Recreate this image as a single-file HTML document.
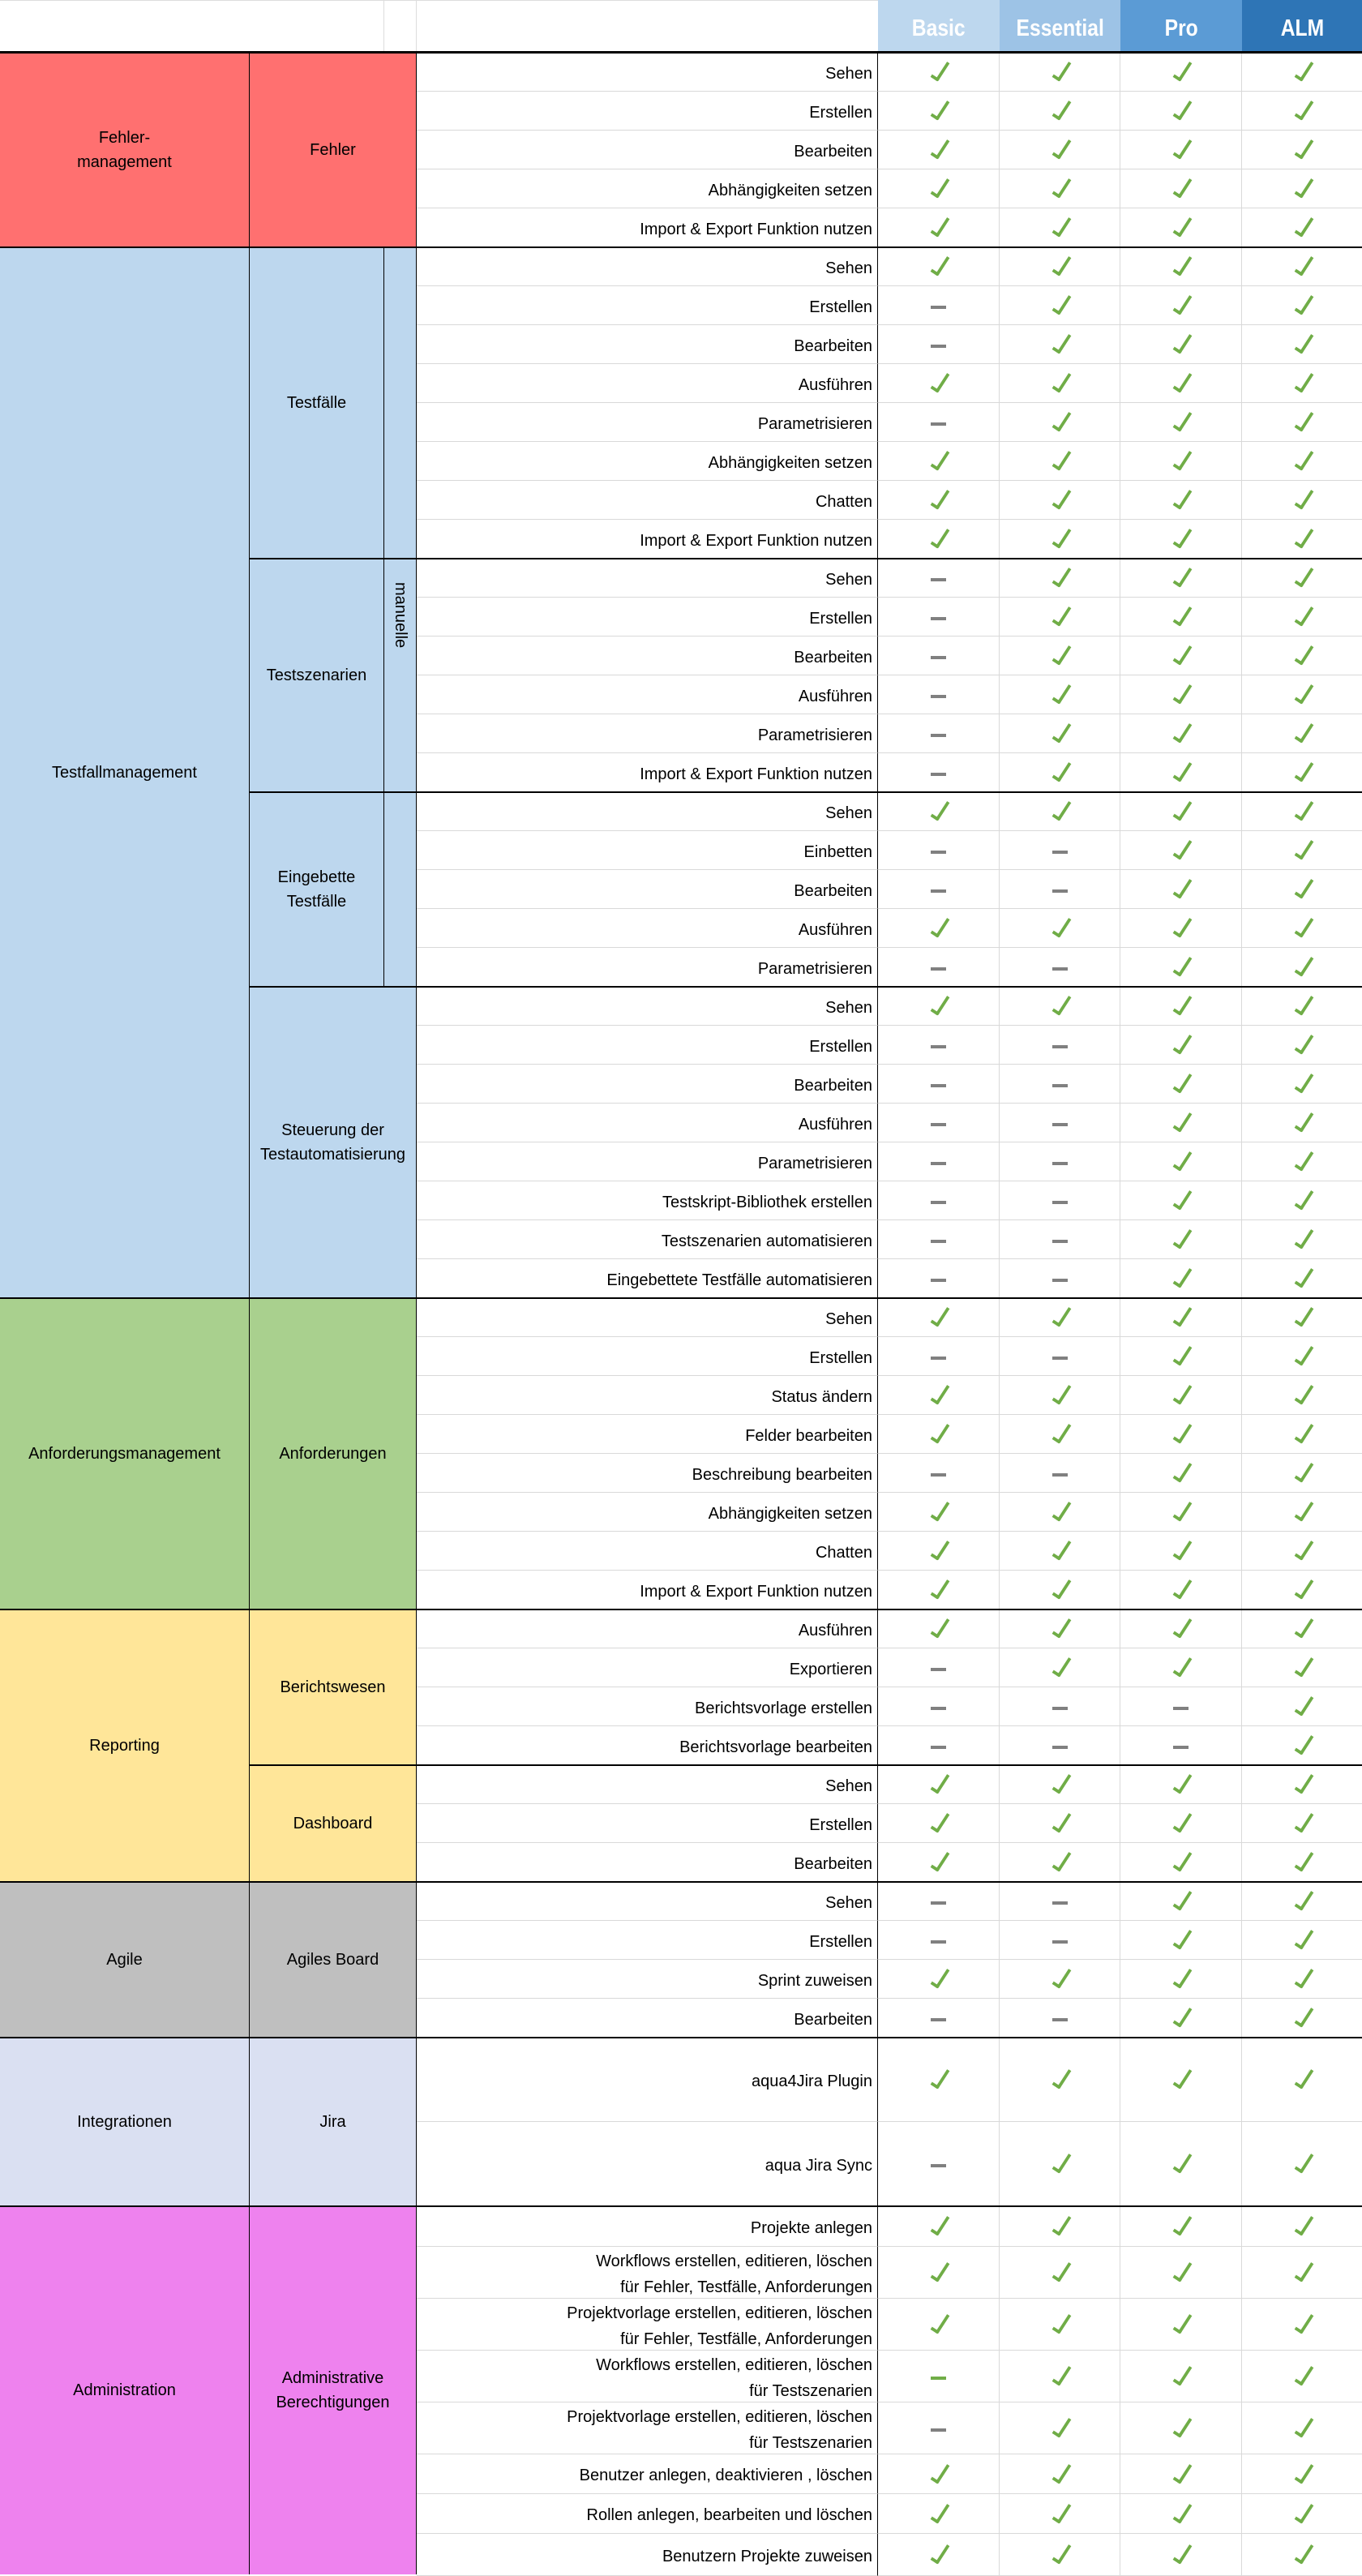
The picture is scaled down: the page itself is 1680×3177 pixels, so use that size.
<!DOCTYPE html>
<html><head><meta charset="utf-8"><style>
*{box-sizing:border-box;margin:0;padding:0}
body{width:1680px;height:3175px;position:relative;background:#fff;font-family:"Liberation Sans",sans-serif;color:#000;overflow:hidden}
.a{position:absolute}
.blk{position:absolute;display:flex;align-items:center;justify-content:center;text-align:center;font-size:20px;line-height:30px;border-right:1px solid #000}
.rows{position:absolute;left:514px;top:65px;width:1166px}
.r{display:flex;height:48px}
.l{width:569px;border-right:1px solid #000;border-bottom:1px solid #d9d9d9;display:flex;align-items:center;justify-content:flex-end;text-align:right;padding:4px 6px 0 0;font-size:20px;line-height:32px}
.c{border-right:1px solid #d9d9d9;border-bottom:1px solid #d9d9d9;display:flex;align-items:center;justify-content:center}
.c:nth-child(2){width:150px}.c:nth-child(3){width:149px}.c:nth-child(4){width:150px}.c:nth-child(5){width:148px;border-right:none}
.k{display:block;width:11px;height:27px;border-right:4px solid #70ad47;border-bottom:4px solid #70ad47;transform:rotate(33deg);margin:-4px 0 0 4px;border-radius:0 0 2px 0}
.d{display:block;width:19px;height:4px;background:#808080;margin-top:4px}
.g{background:#70ad47}
.hl{position:absolute;height:2px;background:#000;right:0}
.h{position:absolute;top:0;height:64px;display:flex;align-items:center;justify-content:center;color:#fff;font-weight:bold;font-size:29px;padding-top:6px}
.h span{display:inline-block;transform:scaleX(.85)}
</style></head><body>
<!-- header -->
<div class="a" style="left:0;top:0;width:1083px;height:64px;border-top:1px solid #ddd"></div>
<div class="a" style="left:473px;top:0;width:1px;height:64px;background:#ddd"></div>
<div class="a" style="left:513px;top:0;width:1px;height:64px;background:#ddd"></div>
<div class="h" style="left:1083px;width:150px;background:#bdd7ee"><span>Basic</span></div>
<div class="h" style="left:1233px;width:149px;background:#9dc3e6"><span>Essential</span></div>
<div class="h" style="left:1382px;width:150px;background:#5b9bd5"><span>Pro</span></div>
<div class="h" style="left:1532px;width:148px;background:#2e75b6"><span>ALM</span></div>

<!-- left blocks -->
<div class="blk" style="left:0;top:65px;width:308px;height:240px;background:#ff7070">Fehler-<br>management</div>
<div class="blk" style="left:308px;top:65px;width:206px;height:240px;background:#ff7070">Fehler</div>

<div class="blk" style="left:0;top:305px;width:308px;height:1296px;background:#bdd7ee">Testfallmanagement</div>
<div class="blk" style="left:308px;top:305px;width:166px;height:384px;background:#bdd7ee">Testfälle</div>
<div class="blk" style="left:308px;top:689px;width:166px;height:288px;background:#bdd7ee">Testszenarien</div>
<div class="blk" style="left:308px;top:977px;width:166px;height:240px;background:#bdd7ee">Eingebette<br>Testfälle</div>
<div class="blk" style="left:474px;top:305px;width:40px;height:912px;background:#bdd7ee;align-items:flex-start"><span style="display:block;transform:rotate(90deg);transform-origin:center;margin-top:418px;white-space:nowrap;width:40px">manuelle</span></div>
<div class="blk" style="left:308px;top:1217px;width:206px;height:384px;background:#bdd7ee">Steuerung der<br>Testautomatisierung</div>

<div class="blk" style="left:0;top:1601px;width:308px;height:384px;background:#a9d08e">Anforderungsmanagement</div>
<div class="blk" style="left:308px;top:1601px;width:206px;height:384px;background:#a9d08e">Anforderungen</div>

<div class="blk" style="left:0;top:1985px;width:308px;height:336px;background:#ffe699">Reporting</div>
<div class="blk" style="left:308px;top:1985px;width:206px;height:192px;background:#ffe699">Berichtswesen</div>
<div class="blk" style="left:308px;top:2177px;width:206px;height:144px;background:#ffe699">Dashboard</div>

<div class="blk" style="left:0;top:2321px;width:308px;height:192px;background:#bfbfbf">Agile</div>
<div class="blk" style="left:308px;top:2321px;width:206px;height:192px;background:#bfbfbf">Agiles Board</div>

<div class="blk" style="left:0;top:2513px;width:308px;height:208px;background:#dae0f2">Integrationen</div>
<div class="blk" style="left:308px;top:2513px;width:206px;height:208px;background:#dae0f2">Jira</div>

<div class="blk" style="left:0;top:2721px;width:308px;height:454px;background:#ee82ee">Administration</div>
<div class="blk" style="left:308px;top:2721px;width:206px;height:454px;background:#ee82ee">Administrative<br>Berechtigungen</div>

<div class="rows">
<!-- Fehler -->
<div class="r"><div class="l">Sehen</div><div class="c"><b class="k"></b></div><div class="c"><b class="k"></b></div><div class="c"><b class="k"></b></div><div class="c"><b class="k"></b></div></div>
<div class="r"><div class="l">Erstellen</div><div class="c"><b class="k"></b></div><div class="c"><b class="k"></b></div><div class="c"><b class="k"></b></div><div class="c"><b class="k"></b></div></div>
<div class="r"><div class="l">Bearbeiten</div><div class="c"><b class="k"></b></div><div class="c"><b class="k"></b></div><div class="c"><b class="k"></b></div><div class="c"><b class="k"></b></div></div>
<div class="r"><div class="l">Abhängigkeiten setzen</div><div class="c"><b class="k"></b></div><div class="c"><b class="k"></b></div><div class="c"><b class="k"></b></div><div class="c"><b class="k"></b></div></div>
<div class="r"><div class="l">Import &amp; Export Funktion nutzen</div><div class="c"><b class="k"></b></div><div class="c"><b class="k"></b></div><div class="c"><b class="k"></b></div><div class="c"><b class="k"></b></div></div>
<!-- Testfälle -->
<div class="r"><div class="l">Sehen</div><div class="c"><b class="k"></b></div><div class="c"><b class="k"></b></div><div class="c"><b class="k"></b></div><div class="c"><b class="k"></b></div></div>
<div class="r"><div class="l">Erstellen</div><div class="c"><b class="d"></b></div><div class="c"><b class="k"></b></div><div class="c"><b class="k"></b></div><div class="c"><b class="k"></b></div></div>
<div class="r"><div class="l">Bearbeiten</div><div class="c"><b class="d"></b></div><div class="c"><b class="k"></b></div><div class="c"><b class="k"></b></div><div class="c"><b class="k"></b></div></div>
<div class="r"><div class="l">Ausführen</div><div class="c"><b class="k"></b></div><div class="c"><b class="k"></b></div><div class="c"><b class="k"></b></div><div class="c"><b class="k"></b></div></div>
<div class="r"><div class="l">Parametrisieren</div><div class="c"><b class="d"></b></div><div class="c"><b class="k"></b></div><div class="c"><b class="k"></b></div><div class="c"><b class="k"></b></div></div>
<div class="r"><div class="l">Abhängigkeiten setzen</div><div class="c"><b class="k"></b></div><div class="c"><b class="k"></b></div><div class="c"><b class="k"></b></div><div class="c"><b class="k"></b></div></div>
<div class="r"><div class="l">Chatten</div><div class="c"><b class="k"></b></div><div class="c"><b class="k"></b></div><div class="c"><b class="k"></b></div><div class="c"><b class="k"></b></div></div>
<div class="r"><div class="l">Import &amp; Export Funktion nutzen</div><div class="c"><b class="k"></b></div><div class="c"><b class="k"></b></div><div class="c"><b class="k"></b></div><div class="c"><b class="k"></b></div></div>
<!-- Testszenarien -->
<div class="r"><div class="l">Sehen</div><div class="c"><b class="d"></b></div><div class="c"><b class="k"></b></div><div class="c"><b class="k"></b></div><div class="c"><b class="k"></b></div></div>
<div class="r"><div class="l">Erstellen</div><div class="c"><b class="d"></b></div><div class="c"><b class="k"></b></div><div class="c"><b class="k"></b></div><div class="c"><b class="k"></b></div></div>
<div class="r"><div class="l">Bearbeiten</div><div class="c"><b class="d"></b></div><div class="c"><b class="k"></b></div><div class="c"><b class="k"></b></div><div class="c"><b class="k"></b></div></div>
<div class="r"><div class="l">Ausführen</div><div class="c"><b class="d"></b></div><div class="c"><b class="k"></b></div><div class="c"><b class="k"></b></div><div class="c"><b class="k"></b></div></div>
<div class="r"><div class="l">Parametrisieren</div><div class="c"><b class="d"></b></div><div class="c"><b class="k"></b></div><div class="c"><b class="k"></b></div><div class="c"><b class="k"></b></div></div>
<div class="r"><div class="l">Import &amp; Export Funktion nutzen</div><div class="c"><b class="d"></b></div><div class="c"><b class="k"></b></div><div class="c"><b class="k"></b></div><div class="c"><b class="k"></b></div></div>
<!-- Eingebette -->
<div class="r"><div class="l">Sehen</div><div class="c"><b class="k"></b></div><div class="c"><b class="k"></b></div><div class="c"><b class="k"></b></div><div class="c"><b class="k"></b></div></div>
<div class="r"><div class="l">Einbetten</div><div class="c"><b class="d"></b></div><div class="c"><b class="d"></b></div><div class="c"><b class="k"></b></div><div class="c"><b class="k"></b></div></div>
<div class="r"><div class="l">Bearbeiten</div><div class="c"><b class="d"></b></div><div class="c"><b class="d"></b></div><div class="c"><b class="k"></b></div><div class="c"><b class="k"></b></div></div>
<div class="r"><div class="l">Ausführen</div><div class="c"><b class="k"></b></div><div class="c"><b class="k"></b></div><div class="c"><b class="k"></b></div><div class="c"><b class="k"></b></div></div>
<div class="r"><div class="l">Parametrisieren</div><div class="c"><b class="d"></b></div><div class="c"><b class="d"></b></div><div class="c"><b class="k"></b></div><div class="c"><b class="k"></b></div></div>
<!-- Steuerung -->
<div class="r"><div class="l">Sehen</div><div class="c"><b class="k"></b></div><div class="c"><b class="k"></b></div><div class="c"><b class="k"></b></div><div class="c"><b class="k"></b></div></div>
<div class="r"><div class="l">Erstellen</div><div class="c"><b class="d"></b></div><div class="c"><b class="d"></b></div><div class="c"><b class="k"></b></div><div class="c"><b class="k"></b></div></div>
<div class="r"><div class="l">Bearbeiten</div><div class="c"><b class="d"></b></div><div class="c"><b class="d"></b></div><div class="c"><b class="k"></b></div><div class="c"><b class="k"></b></div></div>
<div class="r"><div class="l">Ausführen</div><div class="c"><b class="d"></b></div><div class="c"><b class="d"></b></div><div class="c"><b class="k"></b></div><div class="c"><b class="k"></b></div></div>
<div class="r"><div class="l">Parametrisieren</div><div class="c"><b class="d"></b></div><div class="c"><b class="d"></b></div><div class="c"><b class="k"></b></div><div class="c"><b class="k"></b></div></div>
<div class="r"><div class="l">Testskript-Bibliothek erstellen</div><div class="c"><b class="d"></b></div><div class="c"><b class="d"></b></div><div class="c"><b class="k"></b></div><div class="c"><b class="k"></b></div></div>
<div class="r"><div class="l">Testszenarien automatisieren</div><div class="c"><b class="d"></b></div><div class="c"><b class="d"></b></div><div class="c"><b class="k"></b></div><div class="c"><b class="k"></b></div></div>
<div class="r"><div class="l">Eingebettete Testfälle automatisieren</div><div class="c"><b class="d"></b></div><div class="c"><b class="d"></b></div><div class="c"><b class="k"></b></div><div class="c"><b class="k"></b></div></div>
<!-- Anforderungen -->
<div class="r"><div class="l">Sehen</div><div class="c"><b class="k"></b></div><div class="c"><b class="k"></b></div><div class="c"><b class="k"></b></div><div class="c"><b class="k"></b></div></div>
<div class="r"><div class="l">Erstellen</div><div class="c"><b class="d"></b></div><div class="c"><b class="d"></b></div><div class="c"><b class="k"></b></div><div class="c"><b class="k"></b></div></div>
<div class="r"><div class="l">Status ändern</div><div class="c"><b class="k"></b></div><div class="c"><b class="k"></b></div><div class="c"><b class="k"></b></div><div class="c"><b class="k"></b></div></div>
<div class="r"><div class="l">Felder bearbeiten</div><div class="c"><b class="k"></b></div><div class="c"><b class="k"></b></div><div class="c"><b class="k"></b></div><div class="c"><b class="k"></b></div></div>
<div class="r"><div class="l">Beschreibung bearbeiten</div><div class="c"><b class="d"></b></div><div class="c"><b class="d"></b></div><div class="c"><b class="k"></b></div><div class="c"><b class="k"></b></div></div>
<div class="r"><div class="l">Abhängigkeiten setzen</div><div class="c"><b class="k"></b></div><div class="c"><b class="k"></b></div><div class="c"><b class="k"></b></div><div class="c"><b class="k"></b></div></div>
<div class="r"><div class="l">Chatten</div><div class="c"><b class="k"></b></div><div class="c"><b class="k"></b></div><div class="c"><b class="k"></b></div><div class="c"><b class="k"></b></div></div>
<div class="r"><div class="l">Import &amp; Export Funktion nutzen</div><div class="c"><b class="k"></b></div><div class="c"><b class="k"></b></div><div class="c"><b class="k"></b></div><div class="c"><b class="k"></b></div></div>
<!-- Berichtswesen -->
<div class="r"><div class="l">Ausführen</div><div class="c"><b class="k"></b></div><div class="c"><b class="k"></b></div><div class="c"><b class="k"></b></div><div class="c"><b class="k"></b></div></div>
<div class="r"><div class="l">Exportieren</div><div class="c"><b class="d"></b></div><div class="c"><b class="k"></b></div><div class="c"><b class="k"></b></div><div class="c"><b class="k"></b></div></div>
<div class="r"><div class="l">Berichtsvorlage erstellen</div><div class="c"><b class="d"></b></div><div class="c"><b class="d"></b></div><div class="c"><b class="d"></b></div><div class="c"><b class="k"></b></div></div>
<div class="r"><div class="l">Berichtsvorlage bearbeiten</div><div class="c"><b class="d"></b></div><div class="c"><b class="d"></b></div><div class="c"><b class="d"></b></div><div class="c"><b class="k"></b></div></div>
<!-- Dashboard -->
<div class="r"><div class="l">Sehen</div><div class="c"><b class="k"></b></div><div class="c"><b class="k"></b></div><div class="c"><b class="k"></b></div><div class="c"><b class="k"></b></div></div>
<div class="r"><div class="l">Erstellen</div><div class="c"><b class="k"></b></div><div class="c"><b class="k"></b></div><div class="c"><b class="k"></b></div><div class="c"><b class="k"></b></div></div>
<div class="r"><div class="l">Bearbeiten</div><div class="c"><b class="k"></b></div><div class="c"><b class="k"></b></div><div class="c"><b class="k"></b></div><div class="c"><b class="k"></b></div></div>
<!-- Agile -->
<div class="r"><div class="l">Sehen</div><div class="c"><b class="d"></b></div><div class="c"><b class="d"></b></div><div class="c"><b class="k"></b></div><div class="c"><b class="k"></b></div></div>
<div class="r"><div class="l">Erstellen</div><div class="c"><b class="d"></b></div><div class="c"><b class="d"></b></div><div class="c"><b class="k"></b></div><div class="c"><b class="k"></b></div></div>
<div class="r"><div class="l">Sprint zuweisen</div><div class="c"><b class="k"></b></div><div class="c"><b class="k"></b></div><div class="c"><b class="k"></b></div><div class="c"><b class="k"></b></div></div>
<div class="r"><div class="l">Bearbeiten</div><div class="c"><b class="d"></b></div><div class="c"><b class="d"></b></div><div class="c"><b class="k"></b></div><div class="c"><b class="k"></b></div></div>
<!-- Jira -->
<div class="r" style="height:104px"><div class="l">aqua4Jira Plugin</div><div class="c"><b class="k"></b></div><div class="c"><b class="k"></b></div><div class="c"><b class="k"></b></div><div class="c"><b class="k"></b></div></div>
<div class="r" style="height:104px"><div class="l">aqua Jira Sync</div><div class="c"><b class="d"></b></div><div class="c"><b class="k"></b></div><div class="c"><b class="k"></b></div><div class="c"><b class="k"></b></div></div>
<!-- Admin -->
<div class="r" style="height:50px"><div class="l">Projekte anlegen</div><div class="c"><b class="k"></b></div><div class="c"><b class="k"></b></div><div class="c"><b class="k"></b></div><div class="c"><b class="k"></b></div></div>
<div class="r" style="height:64px"><div class="l">Workflows erstellen, editieren, löschen<br>für Fehler, Testfälle, Anforderungen</div><div class="c"><b class="k"></b></div><div class="c"><b class="k"></b></div><div class="c"><b class="k"></b></div><div class="c"><b class="k"></b></div></div>
<div class="r" style="height:64px"><div class="l">Projektvorlage erstellen, editieren, löschen<br>für Fehler, Testfälle, Anforderungen</div><div class="c"><b class="k"></b></div><div class="c"><b class="k"></b></div><div class="c"><b class="k"></b></div><div class="c"><b class="k"></b></div></div>
<div class="r" style="height:64px"><div class="l">Workflows erstellen, editieren, löschen<br>für Testszenarien</div><div class="c"><b class="d g"></b></div><div class="c"><b class="k"></b></div><div class="c"><b class="k"></b></div><div class="c"><b class="k"></b></div></div>
<div class="r" style="height:64px"><div class="l">Projektvorlage erstellen, editieren, löschen<br>für Testszenarien</div><div class="c"><b class="d"></b></div><div class="c"><b class="k"></b></div><div class="c"><b class="k"></b></div><div class="c"><b class="k"></b></div></div>
<div class="r" style="height:49px"><div class="l">Benutzer anlegen, deaktivieren , löschen</div><div class="c"><b class="k"></b></div><div class="c"><b class="k"></b></div><div class="c"><b class="k"></b></div><div class="c"><b class="k"></b></div></div>
<div class="r" style="height:49px"><div class="l">Rollen anlegen, bearbeiten und löschen</div><div class="c"><b class="k"></b></div><div class="c"><b class="k"></b></div><div class="c"><b class="k"></b></div><div class="c"><b class="k"></b></div></div>
<div class="r" style="height:52px"><div class="l">Benutzern Projekte zuweisen</div><div class="c"><b class="k"></b></div><div class="c"><b class="k"></b></div><div class="c"><b class="k"></b></div><div class="c"><b class="k"></b></div></div>
</div>

<!-- thick lines -->
<div class="hl" style="left:0;top:63px;height:3px"></div>
<div class="hl" style="left:0;top:304px"></div>
<div class="hl" style="left:308px;top:688px"></div>
<div class="hl" style="left:308px;top:976px"></div>
<div class="hl" style="left:308px;top:1216px"></div>
<div class="hl" style="left:0;top:1600px"></div>
<div class="hl" style="left:0;top:1984px"></div>
<div class="hl" style="left:308px;top:2176px"></div>
<div class="hl" style="left:0;top:2320px"></div>
<div class="hl" style="left:0;top:2512px"></div>
<div class="hl" style="left:0;top:2720px"></div>
</body></html>
